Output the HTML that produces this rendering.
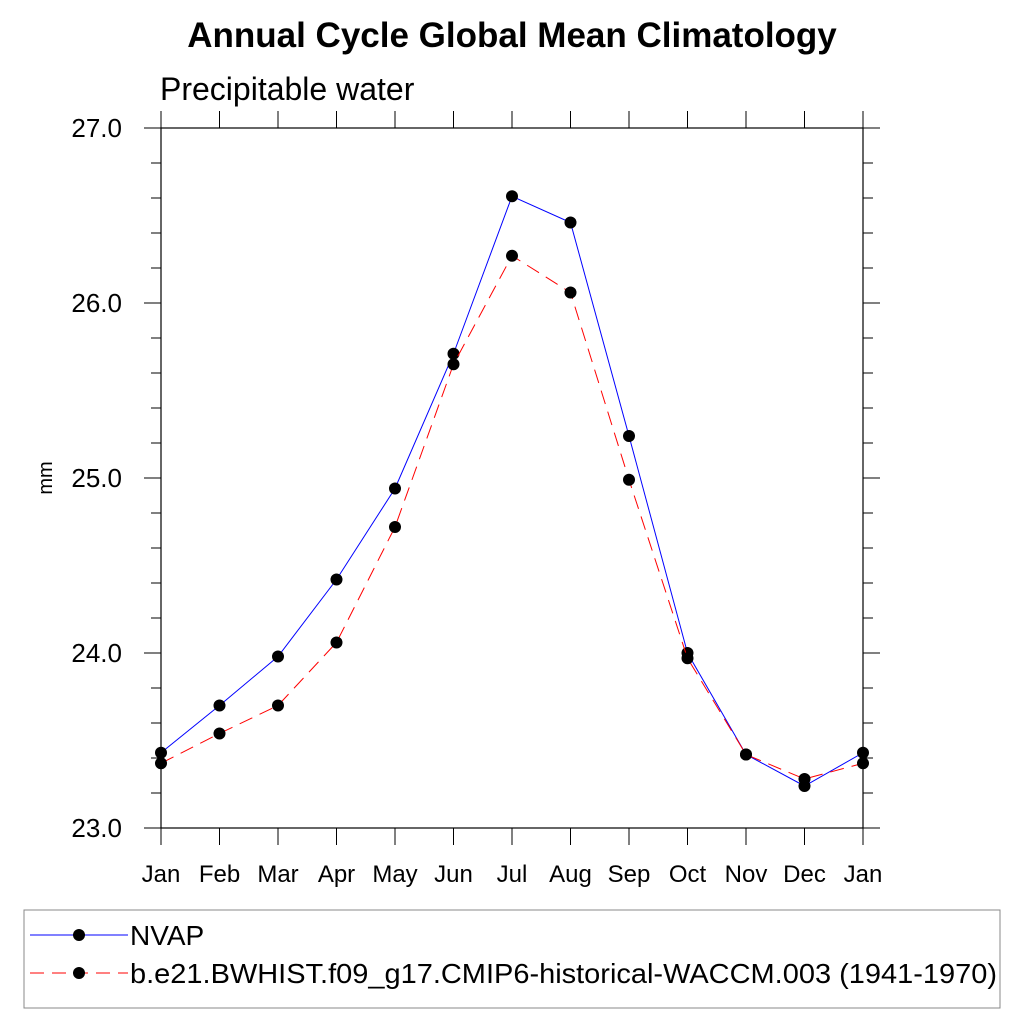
<!DOCTYPE html>
<html><head><meta charset="utf-8"><style>
body{margin:0;background:#fff}svg{display:block;font-family:"Liberation Sans",sans-serif}
</style></head><body>
<svg id="c" width="1024" height="1024">
<text x="512" y="47" text-anchor="middle" font-size="35" font-weight="bold">Annual Cycle Global Mean Climatology</text>
<text x="160" y="100" font-size="32">Precipitable water</text>
<text transform="translate(52,478) rotate(-90)" text-anchor="middle" font-size="20">mm</text>
<g id="axes"></g><g id="series"></g>
<rect x="24" y="910" width="976" height="98" fill="none" stroke="#888" stroke-width="1"/>
<g>
<line x1="30" y1="935" x2="128" y2="935" stroke="#0000ff" stroke-width="1"/>
<circle cx="79" cy="935" r="6" fill="#000"/>
<text x="130" y="945" font-size="28">NVAP</text></g>
<g>
<line x1="30" y1="973" x2="128" y2="973" stroke="#ff0000" stroke-width="1" stroke-dasharray="14,8"/>
<circle cx="79" cy="973" r="6" fill="#000"/>
<text x="130" y="983" font-size="28" textLength="867" lengthAdjust="spacingAndGlyphs">b.e21.BWHIST.f09_g17.CMIP6-historical-WACCM.003 (1941-1970)</text></g>
</svg>
<script>
const months=["Jan","Feb","Mar","Apr","May","Jun","Jul","Aug","Sep","Oct","Nov","Dec","Jan"];
const nvap=[23.43,23.70,23.98,24.42,24.94,25.71,26.61,26.46,25.24,24.00,23.42,23.24,23.43];
const model=[23.37,23.54,23.70,24.06,24.72,25.65,26.27,26.06,24.99,23.97,23.42,23.28,23.37];
const yTicks=[23,24,25,26,27];
const yLabels=["23.0","24.0","25.0","26.0","27.0"];
const NS="http://www.w3.org/2000/svg";
const L=161,R=863,T=128,B=828,ymin=23,ymax=27;
const xs=i=>L+(R-L)*i/(months.length-1);
const ys=v=>B-(v-ymin)/(ymax-ymin)*(B-T);
function mk(tag,at,parent){const e=document.createElementNS(NS,tag);for(const k in at)e.setAttribute(k,at[k]);parent.appendChild(e);return e;}
const ax=document.getElementById('axes');
const fr=mk('rect',{x:L,y:T,width:R-L,height:B-T,fill:'none',stroke:'#000','stroke-width':1.2},ax);


months.forEach((m,i)=>{
  const x=xs(i);
  mk('line',{x1:x,y1:B,x2:x,y2:B+17,stroke:'#000'},ax);
  mk('line',{x1:x,y1:T,x2:x,y2:T-17,stroke:'#000'},ax);
  const t=mk('text',{x:x,y:882,'text-anchor':'middle','font-size':24},ax);
  t.textContent=m;
  
  
});
for(let v=ymin;v<=ymax+1e-9;v+=0.2){
  const y=ys(v);const major=Math.abs(v-Math.round(v))<1e-6;const len=major?17:10;
  mk('line',{x1:L,y1:y,x2:L-len,y2:y,stroke:'#000'},ax);
  mk('line',{x1:R,y1:y,x2:R+len,y2:y,stroke:'#000'},ax);
}
yTicks.forEach((v,i)=>{
  const t=mk('text',{x:122,y:ys(v)+9,'text-anchor':'end','font-size':26},ax);
  t.textContent=yLabels[i];
  
  
});
const sg=document.getElementById('series');
function draw(data,color,dash,name){
  const g=mk('g',{},sg);
  
  
  mk('polyline',{points:data.map((v,i)=>xs(i)+','+ys(v)).join(' '),fill:'none',stroke:color,'stroke-width':1,'stroke-dasharray':dash},g);
  data.forEach((v,i)=>{const c=mk('circle',{cx:xs(i),cy:ys(v),r:6,fill:'#000'},g);
    
    });
}
draw(nvap,'#0000ff','none','nvap-series');
draw(model,'#ff0000','14,8','model-series');
</script>
</body></html>
